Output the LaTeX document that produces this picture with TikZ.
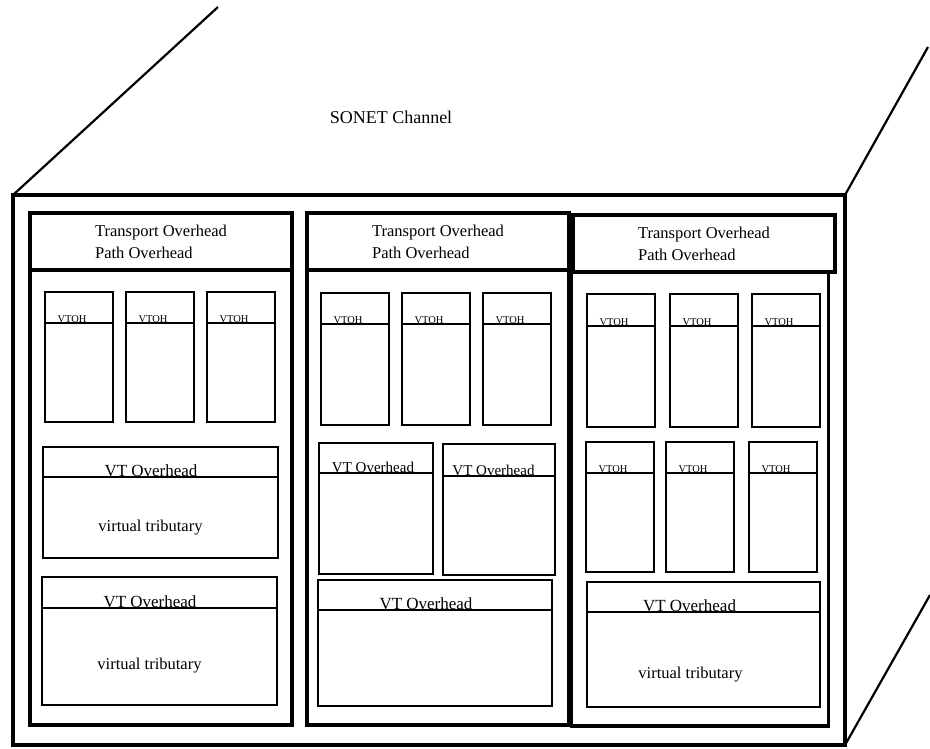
\documentclass[tikz,border=0pt]{standalone}
\usepackage{fontspec}
\setmainfont{Liberation Serif}
\usetikzlibrary{positioning}

\begin{document}
\begin{tikzpicture}[
  x=1pt, y=-1pt,
  box/.style={draw,line width=2.8pt,outer sep=0pt,inner sep=0pt},
  frame/.style={box,line width=3.2pt},
  lean/.style={execute at end node=\hspace{#1}},
  toh/.style={frame,anchor=north west,minimum width=262pt,minimum height=57pt,align=left,font=\fontsize{16.5}{22}\selectfont},
  head/.style={box,anchor=north west,minimum height=30pt,text height=29pt,text depth=1pt,font=\fontsize{17}{20}\selectfont},
  vtoh/.style={head,minimum width=68pt,minimum height=31pt,text height=30pt,font=\fontsize{10.5}{12}\selectfont,lean=14pt},
  vtbody/.style={box,minimum width=68pt,minimum height=100pt},
  trib/.style={font=\fontsize{16.5}{20}\selectfont},
  rim/.style={line width=2.2pt}
]
\useasboundingbox (0,0) rectangle (930,748);

% cube
\node[frame,anchor=north west,minimum width=832pt,minimum height=550pt] (front) at (13,195) {};
\coordinate (backtl) at (218,7);
\coordinate (backtr) at (928,47);
\coordinate (backbr) at (930,595);
\draw[rim] (front.north west) -- (backtl);
\draw[rim] (front.north east) -- (backtr);
\draw[rim] (front.south east) -- (backbr);
\node[font=\fontsize{18}{20}\selectfont] (sonet) at (391,117) {SONET Channel};

% panels
\node[toh] (toh1) at (30,213) {Transport Overhead\\Path Overhead};
\node[frame,minimum width=262pt,minimum height=455pt,below=0pt of toh1] (pane1) {};
\node[toh] (toh2) at (307,213) {Transport Overhead\\Path Overhead};
\node[frame,minimum width=262pt,minimum height=455pt,below=0pt of toh2] (pane2) {};
\node[toh] (toh3) at (573,215) {Transport Overhead\\Path Overhead};
\node[frame,minimum width=257pt,minimum height=454pt,below=0pt of toh3,xshift=-4pt] (pane3) {};

% panel 1
\node[vtoh] (vtoh1a) at (45,292) {VTOH};
\node[vtbody,minimum height=99pt,below=0pt of vtoh1a] (vtb1a) {};
\node[vtoh] (vtoh1b) at (126,292) {VTOH};
\node[vtbody,minimum height=99pt,below=0pt of vtoh1b] (vtb1b) {};
\node[vtoh] (vtoh1c) at (207,292) {VTOH};
\node[vtbody,minimum height=99pt,below=0pt of vtoh1c] (vtb1c) {};

\node[head,minimum width=235pt,lean=19pt] (vt1a) at (43,447) {VT Overhead};
\node[box,minimum width=235pt,minimum height=81pt,below=0pt of vt1a] (trb1a) {};
\node[trib] (tx1a) at ([xshift=-10pt,yshift=-10pt]trb1a.center) {virtual tributary};
\node[head,minimum width=235pt,minimum height=31pt,text height=30pt,lean=19pt] (vt1b) at (42,577) {VT Overhead};
\node[box,minimum width=235pt,minimum height=97pt,below=0pt of vt1b] (trb1b) {};
\node[trib] (tx1b) at ([xshift=-10pt,yshift=-9pt]trb1b.center) {virtual tributary};

% panel 2
\node[vtoh] (vtoh2a) at (321,293) {VTOH};
\node[vtbody,minimum height=101pt,below=0pt of vtoh2a] (vtb2a) {};
\node[vtoh] (vtoh2b) at (402,293) {VTOH};
\node[vtbody,minimum height=101pt,below=0pt of vtoh2b] (vtb2b) {};
\node[vtoh] (vtoh2c) at (483,293) {VTOH};
\node[vtbody,minimum height=101pt,below=0pt of vtoh2c] (vtb2c) {};

\node[head,minimum width=114pt,font=\fontsize{15}{18}\selectfont,lean=6pt] (vt2a) at (319,443) {VT Overhead};
\node[box,minimum width=114pt,minimum height=101pt,below=0pt of vt2a] (trb2a) {};
\node[head,minimum width=112pt,minimum height=32pt,text height=31pt,font=\fontsize{15}{18}\selectfont,lean=11pt] (vt2b) at (443,444) {VT Overhead};
\node[box,minimum width=112pt,minimum height=99pt,below=0pt of vt2b] (trb2b) {};
\node[head,minimum width=234pt,lean=18pt] (vt2c) at (318,580) {VT Overhead};
\node[box,minimum width=234pt,minimum height=96pt,below=0pt of vt2c] (trb2c) {};

% panel 3
\node[vtoh,minimum height=32pt,text height=31pt] (vtoh3a) at (587,294) {VTOH};
\node[vtbody,minimum height=101pt,below=0pt of vtoh3a] (vtb3a) {};
\node[vtoh,minimum height=32pt,text height=31pt] (vtoh3b) at (670,294) {VTOH};
\node[vtbody,minimum height=101pt,below=0pt of vtoh3b] (vtb3b) {};
\node[vtoh,minimum height=32pt,text height=31pt] (vtoh3c) at (752,294) {VTOH};
\node[vtbody,minimum height=101pt,below=0pt of vtoh3c] (vtb3c) {};

\node[vtoh] (vtoh3d) at (586,442) {VTOH};
\node[vtbody,minimum height=99pt,below=0pt of vtoh3d] (vtb3d) {};
\node[vtoh] (vtoh3e) at (666,442) {VTOH};
\node[vtbody,minimum height=99pt,below=0pt of vtoh3e] (vtb3e) {};
\node[vtoh] (vtoh3f) at (749,442) {VTOH};
\node[vtbody,minimum height=99pt,below=0pt of vtoh3f] (vtb3f) {};

\node[head,minimum width=233pt,lean=28pt] (vt3a) at (587,582) {VT Overhead};
\node[box,minimum width=233pt,minimum height=95pt,below=0pt of vt3a] (trb3a) {};
\node[trib] (tx3a) at ([xshift=-13pt,yshift=-15pt]trb3a.center) {virtual tributary};
\end{tikzpicture}
\end{document}
